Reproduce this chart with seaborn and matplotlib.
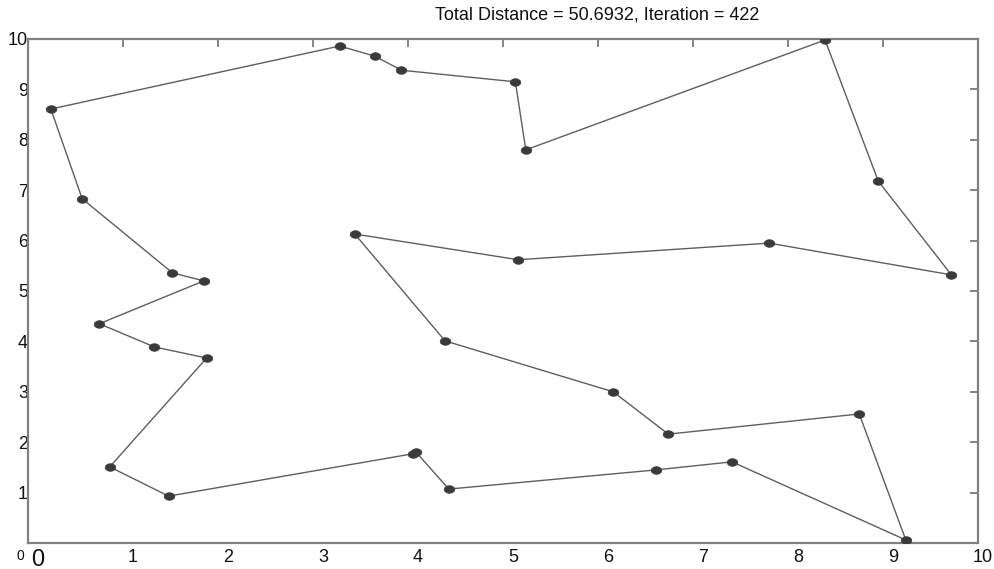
import matplotlib
matplotlib.use("Agg")
import matplotlib.pyplot as plt
import matplotlib.transforms as mtransforms
from matplotlib.path import Path
import numpy as np
import seaborn as sns
import pandas as pd

# Tour through the cities, in visiting order (the route closes back to the first city)
city_x = [0.24, 3.28, 3.65, 3.93, 5.13, 5.24, 8.39, 8.95, 9.72, 7.80,
          5.16, 3.44, 4.39, 6.16, 6.74, 8.75, 9.24, 7.41, 6.61, 4.43,
          4.08, 4.05, 1.48, 0.86, 1.88, 1.33, 0.75, 1.85, 1.52, 0.57]
city_y = [8.61, 9.86, 9.66, 9.38, 9.15, 7.80, 9.98, 7.18, 5.32, 5.95,
          5.62, 6.13, 4.01, 3.00, 2.16, 2.56, 0.06, 1.61, 1.45, 1.07,
          1.81, 1.77, 0.93, 1.51, 3.67, 3.89, 4.35, 5.20, 5.36, 6.83]
total_distance = 50.6932
iteration = 422
tick_values = list(range(0, 11))

sns.set_theme(style="white")
plt.rcParams["font.family"] = ["Liberation Sans", "DejaVu Sans"]

route = pd.DataFrame({"x": city_x + city_x[:1], "y": city_y + city_y[:1],
                      "step": range(len(city_x) + 1)})
cities = pd.DataFrame({"x": city_x, "y": city_y})

# flattened oval city marker
theta = np.linspace(0, 2 * np.pi, 13)
oval = Path(np.column_stack([1.0 * np.cos(theta), 0.72 * np.sin(theta)]), closed=True)

fig = plt.figure(figsize=(9.94, 5.69), dpi=100)
ax = fig.add_axes([0.0282, 0.0457, 0.9557, 0.8858])

sns.lineplot(data=route, x="x", y="y", sort=False, estimator=None,
             color="#5e5e5e", linewidth=1.0, ax=ax)
sns.scatterplot(data=cities, x="x", y="y", marker=oval, s=60,
                color="#3a3a3a", edgecolor="#3a3a3a", linewidth=0.5,
                ax=ax, zorder=3)

ax.set_xlim(0, 10)
ax.set_ylim(0, 10)
ax.set_xlabel("")
ax.set_ylabel("")
ax.set_xticks(tick_values)
ax.set_yticks(tick_values)
ax.set_xticklabels([str(v) for v in tick_values])
ax.set_yticklabels([str(v) for v in tick_values])

ax.tick_params(axis="both", direction="in", length=6, width=1.2,
               color="#707070", top=True, right=True, labelsize=13,
               labelcolor="#111111")
ax.tick_params(axis="y", pad=0)
ax.tick_params(axis="x", pad=4)

for spine in ax.spines.values():
    spine.set_color("#808080")
    spine.set_linewidth(1.6)

# shift x labels slightly right of their ticks
shift = mtransforms.ScaledTranslation(10 / 100, 0, fig.dpi_scale_trans)
for lbl in ax.get_xticklabels():
    lbl.set_transform(lbl.get_transform() + shift)
xlabels = ax.get_xticklabels()
xlabels[0].set_fontsize(17)
xlabels[-1].set_transform(xlabels[-1].get_transform()
                          + mtransforms.ScaledTranslation(-5 / 100, 0, fig.dpi_scale_trans))
ylabels = ax.get_yticklabels()
ylabels[0].set_fontsize(10)
ylabels[0].set_transform(ylabels[0].get_transform()
                         + mtransforms.ScaledTranslation(-4 / 100, -12 / 100, fig.dpi_scale_trans))

fig.text(0.601, 0.973, f"Total Distance = {total_distance:.4f}, Iteration = {iteration}",
         ha="center", va="center", fontsize=13, color="#111111")

fig.savefig("out.png", dpi=100, facecolor="white")
